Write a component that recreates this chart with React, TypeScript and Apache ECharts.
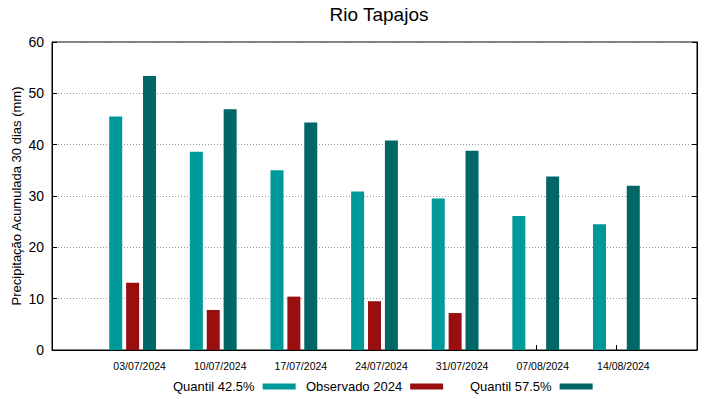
import React, { useEffect, useRef } from "react";
import * as echarts from "echarts";

const categories = ["", "03/07/2024", "10/07/2024", "17/07/2024", "24/07/2024", "31/07/2024", "07/08/2024", "14/08/2024", ""];
const quantil425 = [null, 45.5, 38.6, 35.0, 30.9, 29.5, 26.1, 24.5, null];
const observado2024 = [null, 13.1, 7.8, 10.4, 9.5, 7.2, null, null, null];
const quantil575 = [null, 53.4, 46.9, 44.3, 40.8, 38.8, 33.8, 32.0, null];
const seriesNames = ["Quantil 42.5%", "Observado 2024", "Quantil 57.5%"];
const colors = ["#009999", "#990e0e", "#006666"];

const FONT = "Liberation Sans";

export default function App() {
  const ref = useRef<HTMLDivElement>(null);
  useEffect(() => {
    if (!ref.current) return;
    const chart = echarts.init(ref.current, null, { renderer: "svg" });
    const legendLefts = [173, 306, 470];
    chart.setOption({
      animation: false,
      backgroundColor: "#ffffff",
      title: {
        text: "Rio Tapajos",
        left: 374,
        top: 0,
        textAlign: "center",
        textStyle: { fontFamily: FONT, fontSize: 19, fontWeight: "normal", color: "#000" },
      },
      legend: seriesNames.map((n, i) => ({
        data: [n],
        left: legendLefts[i],
        top: 380,
        padding: 0,
        align: "right",
        itemWidth: 33,
        itemHeight: 6,
        icon: "rect",
        selectedMode: false,
        textStyle: { fontFamily: FONT, fontSize: 13, color: "#000", padding: [0, 3, 0, 0] },
      })),
      grid: {
        left: 52,
        right: 22,
        top: 42,
        bottom: 49,
        containLabel: false,
        outerBoundsMode: "none",
        show: true,
        borderColor: "#000",
        borderWidth: 1,
        backgroundColor: "transparent",
      },
      xAxis: {
        type: "category",
        data: categories,
        boundaryGap: false,
        axisLine: { show: true, lineStyle: { color: "#000" } },
        axisTick: {
          show: true,
          inside: true,
          length: 5,
          interval: (index: number) => index > 0 && index < categories.length - 1,
          lineStyle: { color: "#000" },
        },
        axisLabel: {
          interval: 0,
          fontFamily: FONT,
          fontSize: 10.5,
          color: "#000",
          margin: 10,
          padding: [0, 0, 0, 14],
        },
        splitLine: { show: false },
      },
      yAxis: [
        {
          type: "value",
          min: 0,
          max: 60,
          interval: 10,
          name: "Precipitação Acumulada 30 dias (mm)",
          nameLocation: "middle",
          nameGap: 29,
          nameMoveOverlap: false,
          nameTextStyle: { fontFamily: FONT, fontSize: 13, color: "#000" },
          axisLine: { show: true, lineStyle: { color: "#000" } },
          axisTick: { show: true, inside: true, length: 5, lineStyle: { color: "#000" } },
          axisLabel: { fontFamily: FONT, fontSize: 14, color: "#000", margin: 8 },
          splitLine: { show: true, lineStyle: { color: "#999", type: [1, 2], width: 1 } },
        },
        {
          type: "value",
          min: 0,
          max: 60,
          interval: 10,
          position: "right",
          axisLine: { show: true, lineStyle: { color: "#000" } },
          axisTick: { show: true, inside: true, length: 5, lineStyle: { color: "#000" } },
          axisLabel: { show: false },
          splitLine: { show: false },
        },
      ],
      series: [quantil425, observado2024, quantil575].map((d, i) => ({
        name: seriesNames[i],
        type: "bar",
        data: d,
        barWidth: 13,
        barGap: "30%",
        itemStyle: { color: colors[i] },
      })),
    });
    return () => chart.dispose();
  }, []);
  return (
    <div
      ref={ref}
      style={{ position: "absolute", left: 0, top: 0, width: 719, height: 399 }}
    />
  );
}
